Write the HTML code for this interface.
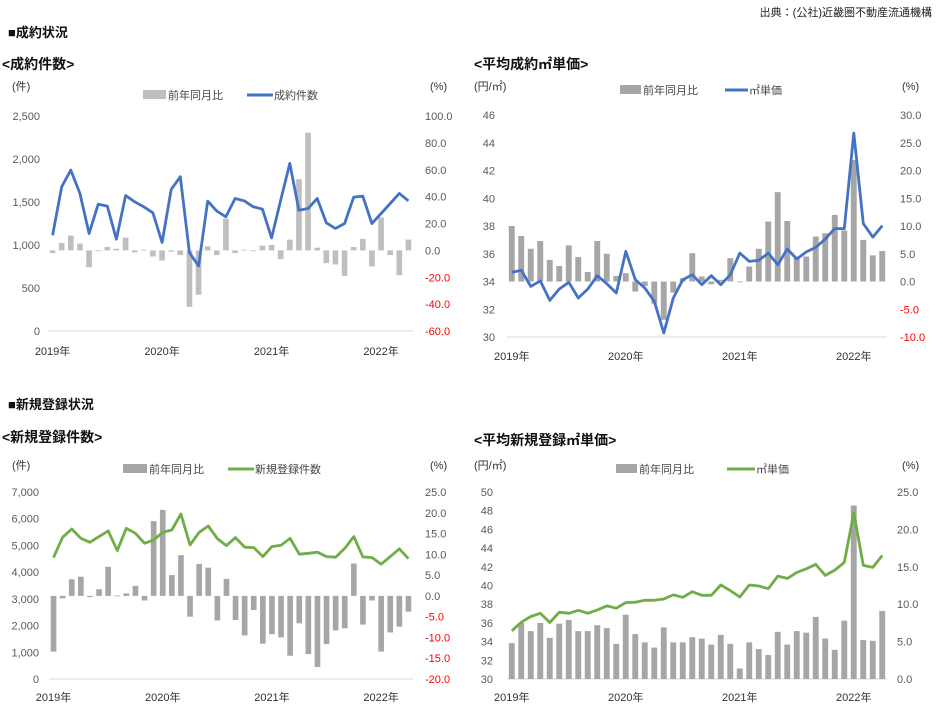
<!DOCTYPE html>
<html><head><meta charset="utf-8"><style>
body{margin:0;background:#fff;}
svg{display:block;font-family:"Liberation Sans","Noto Sans CJK JP",sans-serif;}
</style></head><body>
<svg id="main" width="943" height="711" viewBox="0 0 943 711">
<text x="932" y="16" font-size="11" text-anchor="end" fill="#222">出典：(公社)近畿圏不動産流通機構</text>
<text x="8" y="37" font-size="13" font-weight="bold" fill="#111">■成約状況</text>
<text x="8" y="409" font-size="13" font-weight="bold" fill="#111">■新規登録状況</text>
<text x="2" y="69" font-size="14" font-weight="bold" fill="#111">&lt;成約件数&gt;</text>
<text x="474" y="69" font-size="14" font-weight="bold" fill="#111">&lt;平均成約㎡単価&gt;</text>
<text x="2" y="442" font-size="14" font-weight="bold" fill="#111">&lt;新規登録件数&gt;</text>
<text x="474" y="445" font-size="14" font-weight="bold" fill="#111">&lt;平均新規登録㎡単価&gt;</text>
</svg>
<script>
const years = ["2019年","2020年","2021年","2022年"];
const c1Counts = [1114,1677,1871,1600,1134,1475,1452,1068,1576,1502,1444,1374,1029,1646,1794,912,757,1510,1394,1328,1541,1514,1444,1417,1083,1522,1949,1405,1425,1541,1258,1192,1250,1557,1568,1250,1366,1483,1600,1514];
const c1Yoy = [-2,5.5,11,5,-12.5,-0.5,2.5,1.2,9.5,-1.5,0.5,-4.5,-7.5,-1,-3.5,-42,-33,3,-3.5,23.5,-2,0.5,-0.5,3.5,4,-6.5,8,53,87.5,2,-9.5,-10.5,-19,2.5,8.5,-12,24.5,-3.5,-18.5,8];
const c1LeftTicks = [0,500,1000,1500,2000,2500];
const c1RightTicks = [-60,-40,-20,0,20,40,60,80,100];
const c2Price = [34.66,34.8,33.65,34.04,32.64,33.46,33.94,32.81,33.46,34.42,33.84,33.17,36.17,34.13,33.53,32.57,30.29,32.81,34.13,34.49,33.77,34.42,33.77,34.49,36.05,35.45,35.53,36.05,35.21,36.34,35.62,36.13,36.46,37.06,37.81,37.81,44.7,38.17,37.2,38.02];
const c2Yoy = [10,8.2,5.9,7.3,3.9,2.8,6.5,4.4,1.7,7.3,5.0,1.0,1.5,-1.8,-0.8,-4,-6.9,-2,0.6,5.1,0.9,-0.5,0.3,4.2,-0.1,2.7,5.9,10.8,16.1,10.9,4.5,4.5,8.1,8.7,12,9.2,21.9,7.5,4.7,5.5];
const c2LeftTicks = [30,32,34,36,38,40,42,44,46];
const c2RightTicks = [-10,-5,0,5,10,15,20,25,30];
const c3Counts = [4545,5305,5616,5268,5118,5330,5542,4807,5641,5455,5081,5205,5492,5579,6177,5019,5492,5729,5255,4994,5293,4932,4919,4583,4956,5006,5268,4670,4707,4745,4583,4558,4894,5330,4570,4545,4296,4583,4869,4508];
const c3Yoy = [-13.4,-0.6,4,4.6,-0.3,1.6,7,0.1,0.6,2.4,-1.1,18,20.7,5,9.8,-5,7.7,6.8,-5.9,4.1,-5.8,-9.5,-3.4,-11.5,-9.2,-10,-14.4,-6.6,-14,-17.1,-11.6,-8.3,-7.8,7.8,-6.9,-1.1,-13.4,-8.8,-7.4,-3.8];
const c3LeftTicks = [0,1000,2000,3000,4000,5000,6000,7000];
const c3RightTicks = [-20,-15,-10,-5,0,5,10,15,20,25];
const c4Price = [35.15,36.07,36.68,37.03,36.04,37.14,37.03,37.35,37.03,37.39,37.82,37.57,38.17,38.21,38.42,38.42,38.56,38.99,38.74,39.34,38.95,38.95,40.05,39.45,38.77,40.05,39.95,39.66,41.01,40.76,41.4,41.79,42.26,41.08,41.65,42.47,47.76,42.15,41.94,43.21];
const c4Yoy = [4.8,7.5,6.4,7.5,5.5,7.4,7.9,6.4,6.4,7.2,6.8,4.7,8.6,6.0,4.9,4.2,6.9,4.9,4.9,5.6,5.4,4.6,5.9,4.7,1.4,4.9,4.0,3.2,6.3,4.6,6.4,6.2,8.3,5.4,3.9,7.8,23.2,5.2,5.1,9.1];
const c4LeftTicks = [30,32,34,36,38,40,42,44,46,48,50];
const c4RightTicks = [0,5,10,15,20,25];

const NS="http://www.w3.org/2000/svg";
const svg=document.getElementById('main');
function mk(tag,attrs,parent){const e=document.createElementNS(NS,tag);for(const k in attrs)e.setAttribute(k,attrs[k]);(parent||svg).appendChild(e);return e;}
function fmtL(v,dec){return dec?v.toString():v.toLocaleString('en-US');}

function drawChart(cfg){
  const g=mk('g',{});
  
  
  const n=cfg.line.length, cw=(cfg.x1-cfg.x0)/n;
  const xc=i=>cfg.x0+cw*(i+0.5);
  const yL=v=>cfg.yb+(v-cfg.lmin)/(cfg.lmax-cfg.lmin)*(cfg.yt-cfg.yb);
  const yR=v=>cfg.yb+(v-cfg.rmin)/(cfg.rmax-cfg.rmin)*(cfg.yt-cfg.yb);
  // axis baseline
  const ax=mk('line',{x1:cfg.x0,x2:cfg.x1,y1:cfg.yb,y2:cfg.yb,stroke:'#d9d9d9','stroke-width':1},g);
  
  
  // bars
  const bw=cw*0.62;
  cfg.bars.forEach((v,i)=>{
    const y0=yR(0), y1=yR(v);
    const r=mk('rect',{x:xc(i)-bw/2,y:Math.min(y0,y1),width:bw,height:Math.max(0.8,Math.abs(y1-y0)),fill:cfg.barColor},g);
    
    
  });
  // line
  const pts=cfg.line.map((v,i)=>xc(i).toFixed(1)+','+yL(v).toFixed(1)).join(' ');
  const pl=mk('polyline',{points:pts,fill:'none',stroke:cfg.lineColor,'stroke-width':2.8,'stroke-linejoin':'round'},g);
  
  
  // left ticks
  cfg.lt.forEach(v=>{
    const t=mk('text',{x:cfg.lx,y:yL(v)+4,'font-size':11,'text-anchor':'end',fill:'#595959'},g);
    t.textContent=cfg.ldec?v.toString():v.toLocaleString('en-US');
    
    
  });
  cfg.rt.forEach(v=>{
    const t=mk('text',{x:cfg.rx,y:yR(v)+4,'font-size':11,'text-anchor':'start',fill:v<0?'#ff0000':'#595959'},g);
    t.textContent=v.toFixed(1);
    
    
  });
  years.forEach((s,k)=>{
    const t=mk('text',{x:xc(k*12),y:cfg.xly,'font-size':11,'text-anchor':'middle',fill:'#333'},g);
    t.textContent=s;
    
    
  });
  // units
  const u1=mk('text',{x:cfg.ux,y:cfg.uy,'font-size':11,fill:'#333'},g);u1.textContent=cfg.unit;
  
  
  const u2=mk('text',{x:cfg.pux,y:cfg.uy,'font-size':11,fill:'#333'},g);u2.textContent='(%)';
  
  
  // legend
  const L=cfg.leg;
  const sw=mk('rect',{x:L[0],y:cfg.legy-5,width:L[1]-L[0],height:9,fill:cfg.barColor},g);
  
  
  const lt1=mk('text',{x:L[1]+2,y:cfg.legy+4,'font-size':11,fill:'#444'},g);lt1.textContent='前年同月比';
  
  
  const ll=mk('line',{x1:L[2],x2:L[3],y1:cfg.legy,y2:cfg.legy,stroke:cfg.lineColor,'stroke-width':3},g);
  
  
  const lt2=mk('text',{x:L[3]+1,y:cfg.legy+4,'font-size':11,fill:'#444'},g);lt2.textContent=cfg.lineLabel;
  
  
}

drawChart({name:'chart-contract-count',x0:48,x1:413,yb:331,yt:116,lmin:0,lmax:2500,rmin:-60,rmax:100,
  line:c1Counts,bars:c1Yoy,lt:c1LeftTicks,rt:c1RightTicks,lx:40,rx:425,xly:355,barColor:'#bfbfbf',lineColor:'#4472c4',
  unit:'(件)',ux:12,pux:430,uy:90,legy:95,leg:[143,166,247,273],lineLabel:'成約件数'});
drawChart({name:'chart-contract-unit-price',x0:507,x1:887,yb:337,yt:115,lmin:30,lmax:46,rmin:-10,rmax:30,ldec:true,
  line:c2Price,bars:c2Yoy,lt:c2LeftTicks,rt:c2RightTicks,lx:495,rx:900,xly:360,barColor:'#a6a6a6',lineColor:'#4472c4',
  unit:'(円/㎡)',ux:474,pux:902,uy:90,legy:90,leg:[620,641,725,748],lineLabel:'㎡単価'});
drawChart({name:'chart-listing-count',x0:49,x1:413,yb:679,yt:492,lmin:0,lmax:7000,rmin:-20,rmax:25,
  line:c3Counts,bars:c3Yoy,lt:c3LeftTicks,rt:c3RightTicks,lx:39,rx:425,xly:701,barColor:'#a6a6a6',lineColor:'#70ad47',
  unit:'(件)',ux:12,pux:430,uy:469,legy:469,leg:[123,147,228,254],lineLabel:'新規登録件数'});
drawChart({name:'chart-listing-unit-price',x0:507,x1:887,yb:679,yt:492,lmin:30,lmax:50,rmin:0,rmax:25,ldec:true,
  line:c4Price,bars:c4Yoy,lt:c4LeftTicks,rt:c4RightTicks,lx:493,rx:897,xly:701,barColor:'#a6a6a6',lineColor:'#70ad47',
  unit:'(円/㎡)',ux:474,pux:902,uy:469,legy:469,leg:[616,637,727,755],lineLabel:'㎡単価'});
</script>
</body></html>
